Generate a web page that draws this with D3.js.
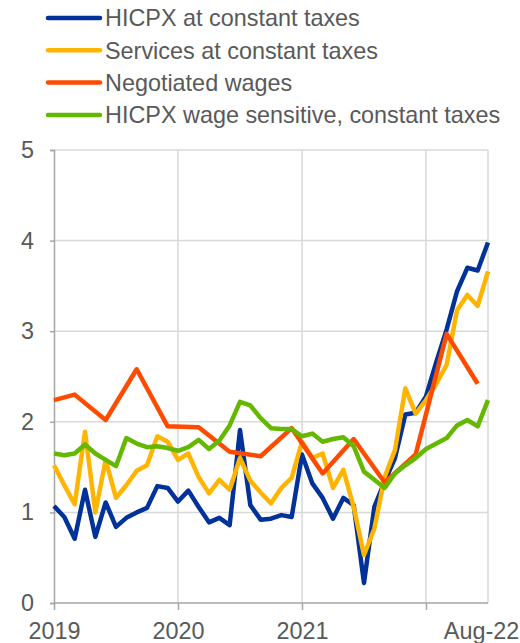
<!DOCTYPE html>
<html>
<head>
<meta charset="utf-8">
<style>
  body { margin: 0; background: #fff; }
  svg { display: block; font-family: "Liberation Sans", Arial, sans-serif; }
  .axis text { fill: #595959; font-size: 23.4px; }
  .axis path, .axis line { stroke: #a6a6a6; stroke-width: 1.5; }
  .grid line { stroke: #d9d9d9; stroke-width: 1.5; }
</style>
</head>
<body>
<div id="chart"></div>
<script src="https://cdn.jsdelivr.net/npm/d3@7"></script>
<script>
// monthly observations, index 0 = first month of 2019, index 42 = last (Aug-22)
var hicpx = [1.07, 0.95, 0.71, 1.25, 0.73, 1.11, 0.84, 0.94, 1.00, 1.05, 1.29, 1.27,
             1.12, 1.24, 1.06, 0.89, 0.94, 0.86, 1.91, 1.08, 0.92, 0.93, 0.97, 0.95,
             1.64, 1.32, 1.16, 0.93, 1.16, 1.08, 0.22, 1.06, 1.34, 1.60, 2.08, 2.10,
             2.28, 2.66, 3.02, 3.44, 3.70, 3.67, 3.98];
var services = [1.52, 1.30, 1.09, 1.89, 1.00, 1.58, 1.16, 1.30, 1.46, 1.52, 1.84, 1.78,
                1.58, 1.65, 1.39, 1.21, 1.36, 1.25, 1.60, 1.35, 1.22, 1.10, 1.27, 1.38,
                1.78, 1.60, 1.65, 1.27, 1.47, 1.06, 0.53, 0.82, 1.39, 1.69, 2.37, 2.09,
                2.24, 2.42, 2.63, 3.23, 3.40, 3.28, 3.66];
var wageSensitive = [1.65, 1.63, 1.65, 1.75, 1.65, 1.58, 1.51, 1.82, 1.76, 1.72, 1.73, 1.71,
                     1.68, 1.72, 1.80, 1.70, 1.79, 1.96, 2.22, 2.18, 2.04, 1.93, 1.92, 1.92,
                     1.84, 1.87, 1.78, 1.81, 1.83, 1.73, 1.45, 1.36, 1.27, 1.43, 1.52, 1.60,
                     1.70, 1.76, 1.82, 1.96, 2.02, 1.95, 2.24];
// negotiated wages are quarterly
var wagesIdx = [0, 2, 5, 8, 11, 14, 17, 20, 23, 26, 29, 32, 35, 38, 41];
var wages = [2.24, 2.30, 2.02, 2.58, 1.95, 1.94, 1.67, 1.62, 1.93, 1.43, 1.81, 1.33, 1.64, 2.97, 2.42];

var seriesNames = ["HICPX at constant taxes", "Services at constant taxes",
                   "Negotiated wages", "HICPX wage sensitive, constant taxes"];
var seriesColors = ["#003299", "#ffb400", "#ff4b00", "#65b800"];

var xTickIdx = [0, 12, 24, 36, 42];
var xTickLabels = ["2019", "2020", "2021", "", "Aug-22"];
var yTicks = [0, 1, 2, 3, 4, 5];

var width = 520, height = 643;
var margin = {top: 150, right: 32, bottom: 40, left: 54};

var x = d3.scaleLinear().domain([0, 42]).range([margin.left, width - margin.right]);
var y = d3.scaleLinear().domain([0, 5]).range([height - margin.bottom, margin.top]);

var svg = d3.select("#chart").append("svg")
    .attr("width", width)
    .attr("height", height);

// gridlines
svg.append("g").attr("class", "grid")
    .selectAll("line").data(yTicks.slice(1)).enter().append("line")
    .attr("x1", x(0)).attr("x2", x(42))
    .attr("y1", function(d) { return y(d); }).attr("y2", function(d) { return y(d); });
svg.append("g").attr("class", "grid")
    .selectAll("line").data(xTickIdx.slice(1)).enter().append("line")
    .attr("x1", function(d) { return x(d); }).attr("x2", function(d) { return x(d); })
    .attr("y1", y(0)).attr("y2", y(5));

// axes
svg.append("g").attr("class", "axis")
    .attr("transform", "translate(" + x(0) + ",0)")
    .call(d3.axisLeft(y).tickValues(yTicks).tickFormat(d3.format("d")).tickSize(4).tickPadding(16));

var xAxis = svg.append("g").attr("class", "axis")
    .attr("transform", "translate(0," + y(0) + ")")
    .call(d3.axisBottom(x).tickValues(xTickIdx)
        .tickFormat(function(d, i) { return xTickLabels[i]; })
        .tickSize(7).tickPadding(12));
xAxis.select(".domain").attr("d", "M" + x(0) + ",0H" + x(42));
xAxis.selectAll(".tick").filter(function(d) { return d === 42; })
    .select("line").remove();
xAxis.selectAll(".tick").filter(function(d) { return d === 42; })
    .select("text").attr("dx", -7);

// lines
var line = d3.line()
    .x(function(d) { return x(d[0]); })
    .y(function(d) { return y(d[1]); });

var seriesData = [
  hicpx.map(function(v, i) { return [i, v]; }),
  services.map(function(v, i) { return [i, v]; }),
  wages.map(function(v, i) { return [wagesIdx[i], v]; }),
  wageSensitive.map(function(v, i) { return [i, v]; })
];

svg.append("g").selectAll("path").data(seriesData).enter().append("path")
    .attr("d", line)
    .attr("fill", "none")
    .attr("stroke", function(d, i) { return seriesColors[i]; })
    .attr("stroke-width", 4.5)
    .attr("stroke-linejoin", "round");

// legend
var legend = svg.append("g").selectAll("g").data(seriesNames).enter().append("g")
    .attr("transform", function(d, i) { return "translate(0," + (18 + i * 32.3) + ")"; });
legend.append("line")
    .attr("x1", 48).attr("x2", 100)
    .attr("stroke", function(d, i) { return seriesColors[i]; })
    .attr("stroke-width", 4.5)
    .attr("stroke-linecap", "round");
legend.append("text")
    .attr("x", 105).attr("dy", "0.35em")
    .attr("fill", "#595959")
    .style("font-size", "23.4px")
    .text(function(d) { return d; });
</script>
</body>
</html>
